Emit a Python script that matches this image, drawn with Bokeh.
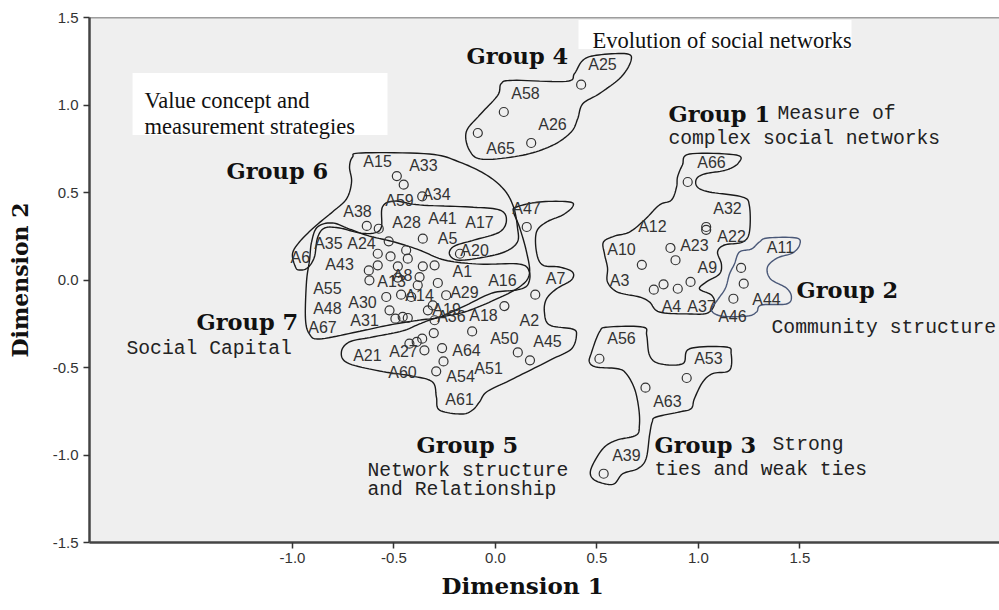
import numpy as np
from bokeh.plotting import figure
from bokeh.models import FixedTicker, NumeralTickFormatter, Range1d, Span, Title
from bokeh.embed import file_html
from bokeh.resources import INLINE
from bokeh.core.properties import value

# ---------------- data: MDS coordinates of items ----------------
pt_x = [-0.486, -0.452, -0.361, -0.634, -0.575, -0.526, -0.358, -0.175, -0.580, -0.517,
        -0.440, -0.432, -0.580, -0.624, -0.481, -0.358, -0.300, -0.621, -0.481, -0.374,
        -0.383, -0.284, -0.538, -0.465, -0.415, -0.243, -0.522, -0.493, -0.457, -0.432,
        -0.333, -0.309, -0.300, -0.304, -0.361, -0.388, -0.424, -0.350, -0.263, -0.256,
        -0.292, -0.115, 0.044, 0.196, 0.154, 0.110, 0.170,
        0.947, 1.038, 1.038, 0.862, 0.887, 0.721, 0.961, 0.898, 0.828, 0.780,
        1.210, 1.223, 1.172,
        0.512, 0.739, 0.942, 0.533,
        0.422, 0.041, -0.087, 0.176]
pt_y = [0.594, 0.545, 0.478, 0.309, 0.293, 0.221, 0.236, 0.150, 0.150, 0.135,
        0.170, 0.122, 0.084, 0.055, 0.078, 0.078, 0.084, -0.002, 0.014, 0.017,
        -0.030, -0.017, -0.097, -0.084, -0.097, -0.087, -0.173, -0.221, -0.211, -0.217,
        -0.173, -0.145, -0.230, -0.303, -0.335, -0.354, -0.364, -0.402, -0.389, -0.465,
        -0.522, -0.294, -0.149, -0.084, 0.303, -0.414, -0.459,
        0.560, 0.303, 0.287, 0.183, 0.113, 0.087, -0.011, -0.050, -0.025, -0.055,
        0.069, -0.021, -0.107,
        -0.450, -0.615, -0.560, -1.107,
        1.116, 0.960, 0.840, 0.783]

# item labels
lab_text = ["A15", "A33", "A34", "A59", "A38", "A28", "A41", "A17", "A5", "A20",
            "A35", "A24", "A6", "A43", "A1", "A55", "A13", "A8", "A14", "A29",
            "A16", "A48", "A30", "A19", "A36", "A18", "A67", "A31", "A47", "A7",
            "A2", "A21", "A27", "A64", "A50", "A45", "A60", "A54", "A51", "A61",
            "A66", "A32", "A12", "A22", "A23", "A10", "A3", "A9", "A4", "A37",
            "A11", "A44", "A46",
            "A56", "A53", "A63", "A39",
            "A25", "A58", "A26", "A65"]
lab_x = [-0.581, -0.355, -0.291, -0.473, -0.680, -0.438, -0.261, -0.079, -0.236, -0.103,
         -0.823, -0.660, -0.961, -0.768, -0.163, -0.828, -0.512, -0.458, -0.374, -0.153,
         0.034, -0.828, -0.655, -0.241, -0.217, -0.059, -0.852, -0.645, 0.153, 0.296,
         0.167, -0.631, -0.453, -0.143, 0.044, 0.256, -0.458, -0.172, -0.034, -0.177,
         1.064, 1.143, 0.773, 1.163, 0.980, 0.621, 0.611, 1.044, 0.867, 1.015,
         1.404, 1.335, 1.167,
         0.621, 1.049, 0.847, 0.645,
         0.527, 0.148, 0.281, 0.025]
lab_y = [0.680, 0.657, 0.486, 0.457, 0.394, 0.331, 0.354, 0.331, 0.240, 0.171,
         0.206, 0.206, 0.126, 0.086, 0.046, -0.051, -0.006, 0.023, -0.086, -0.074,
         0.000, -0.160, -0.126, -0.166, -0.206, -0.200, -0.269, -0.234, 0.411, 0.011,
         -0.229, -0.429, -0.406, -0.400, -0.337, -0.354, -0.526, -0.554, -0.503, -0.680,
         0.674, 0.411, 0.303, 0.246, 0.200, 0.177, 0.000, 0.069, -0.149, -0.149,
         0.183, -0.109, -0.206,
         -0.337, -0.451, -0.697, -1.000,
         1.229, 1.063, 0.886, 0.754]

x_ticks = [-1.0, -0.5, 0.0, 0.5, 1.0, 1.5]
y_ticks = [-1.5, -1.0, -0.5, 0.0, 0.5, 1.0, 1.5]

# ---------------- group outlines (control points, data units) ----------------
g1_x = [0.897, 0.921, 0.956, 1.187, 1.197, 1.138, 1.030, 0.990, 0.995, 1.054, 1.217, 1.251, 1.251,
        1.217, 1.128, 1.094, 1.113, 1.103, 1.039, 1.005, 1.064, 1.079, 1.044, 0.956, 0.808, 0.759,
        0.709, 0.601, 0.552, 0.552, 0.537, 0.532, 0.586, 0.660, 0.734, 0.808, 0.867, 0.892]
g1_y = [0.589, 0.657, 0.720, 0.714, 0.669, 0.629, 0.606, 0.577, 0.531, 0.503, 0.474, 0.423, 0.274,
        0.217, 0.200, 0.160, 0.091, 0.034, -0.011, -0.051, -0.086, -0.137, -0.189, -0.194, -0.183, -0.126,
        -0.097, -0.069, -0.011, 0.069, 0.149, 0.217, 0.251, 0.274, 0.343, 0.429, 0.457, 0.531]
g2_x = [1.177, 1.202, 1.261, 1.300, 1.340, 1.483, 1.498, 1.463, 1.389, 1.340, 1.355, 1.433, 1.458,
        1.433, 1.310, 1.286, 1.241, 1.113, 1.064, 1.094, 1.133, 1.153]
g2_y = [0.091, 0.160, 0.177, 0.217, 0.240, 0.240, 0.200, 0.154, 0.126, 0.074, 0.006, -0.046, -0.097,
        -0.137, -0.143, -0.183, -0.206, -0.206, -0.171, -0.114, -0.046, 0.034]
g3_x = [0.471, 0.512, 0.553, 0.726, 0.745, 0.759, 0.808, 0.923, 0.956, 1.136, 1.161, 1.153, 1.070,
        1.021, 0.980, 0.964, 0.906, 0.792, 0.772, 0.759, 0.742, 0.701, 0.627, 0.586, 0.537, 0.479,
        0.471, 0.529, 0.595, 0.693, 0.709, 0.706, 0.685, 0.644, 0.602, 0.496, 0.463]
g3_y = [-0.421, -0.297, -0.269, -0.269, -0.316, -0.430, -0.478, -0.478, -0.393, -0.383, -0.421, -0.516, -0.535,
        -0.583, -0.678, -0.735, -0.754, -0.783, -0.811, -0.887, -1.021, -1.078, -1.107, -1.164, -1.164, -1.135,
        -1.078, -0.964, -0.916, -0.887, -0.830, -0.735, -0.621, -0.535, -0.507, -0.497, -0.469]
g4_x = [-0.144, -0.079, 0.011, 0.028, 0.085, 0.348, 0.389, 0.430, 0.496, 0.644, 0.668, 0.619, 0.512,
        0.430, 0.405, 0.373, 0.282, 0.134, -0.063, -0.128]
g4_y = [0.846, 0.941, 1.055, 1.122, 1.141, 1.135, 1.179, 1.255, 1.284, 1.293, 1.255, 1.160, 1.065,
        1.007, 0.922, 0.846, 0.770, 0.713, 0.690, 0.741]
g5_x = [0.103, 0.217, 0.365, 0.379, 0.330, 0.251, 0.202, 0.202, 0.232, 0.315, 0.379, 0.374, 0.300,
        0.251, 0.241, 0.266, 0.379, 0.399, 0.374, 0.281, 0.182, 0.054, -0.044, -0.079, -0.113, -0.167,
        -0.276, -0.291, -0.310, -0.409, -0.571, -0.729, -0.759, -0.719, -0.606, -0.458, -0.374, -0.291,
        -0.153, -0.005, 0.118, 0.167, 0.153, 0.118, 0.089]
g5_y = [0.417, 0.446, 0.446, 0.417, 0.371, 0.331, 0.274, 0.160, 0.086, 0.074, 0.046, 0.000, -0.051,
        -0.109, -0.183, -0.257, -0.280, -0.314, -0.394, -0.451, -0.509, -0.583, -0.640, -0.697, -0.743, -0.766,
        -0.743, -0.669, -0.583, -0.549, -0.520, -0.474, -0.411, -0.354, -0.326, -0.291, -0.251, -0.217,
        -0.183, -0.114, -0.040, 0.034, 0.160, 0.303, 0.389]
g6_x = [-0.985, -1.000, -0.966, -0.892, -0.803, -0.734, -0.709, -0.719, -0.704, -0.660, -0.325, -0.177,
        -0.044, 0.044, 0.089, 0.108, 0.108, 0.044, -0.079, -0.187, -0.227, -0.202, -0.103, 0.020, 0.054,
        0.020, -0.128, -0.374, -0.498, -0.557, -0.562, -0.596, -0.670, -0.768, -0.842, -0.877, -0.892,
        -0.926, -0.966]
g6_y = [0.074, 0.149, 0.217, 0.303, 0.389, 0.463, 0.560, 0.646, 0.703, 0.726, 0.720, 0.674,
        0.600, 0.514, 0.417, 0.303, 0.217, 0.160, 0.126, 0.114, 0.149, 0.194, 0.229, 0.274, 0.343,
        0.400, 0.417, 0.429, 0.451, 0.417, 0.303, 0.269, 0.269, 0.297, 0.297, 0.240, 0.131,
        0.069, 0.057]
g7_x = [-0.906, -0.877, -0.803, -0.719, -0.621, -0.498, -0.374, -0.251, -0.079, 0.118, 0.167, 0.158,
        0.103, -0.015, -0.143, -0.276, -0.374, -0.522, -0.685, -0.867, -0.916, -0.936, -0.931, -0.916]
g7_y = [0.217, 0.303, 0.326, 0.291, 0.251, 0.217, 0.171, 0.114, 0.091, 0.091, 0.046, -0.029,
        -0.057, -0.074, -0.143, -0.211, -0.229, -0.257, -0.297, -0.337, -0.309, -0.223, -0.011, 0.114]


def smooth_closed(xs, ys, n=10):
    P = np.column_stack([xs, ys]).astype(float)
    m = len(P)
    out = []
    for i in range(m):
        p0, p1, p2, p3 = P[i - 1], P[i], P[(i + 1) % m], P[(i + 2) % m]
        for t in np.linspace(0, 1, n, endpoint=False):
            t2, t3 = t * t, t * t * t
            out.append(0.5 * ((2 * p1) + (-p0 + p2) * t + (2 * p0 - 5 * p1 + 4 * p2 - p3) * t2
                              + (-p0 + 3 * p1 - 3 * p2 + p3) * t3))
    out.append(out[0])
    a = np.array(out)
    return a[:, 0], a[:, 1]


p = figure(width=999, height=610, output_backend="svg", toolbar_location=None,
           x_range=Range1d(-2.0, 2.483), y_range=Range1d(-1.5, 1.5),
           min_border_left=89, min_border_right=0, min_border_top=17, min_border_bottom=68)
p.background_fill_color = "#efefef"
p.border_fill_color = "white"
p.outline_line_color = None
p.grid.visible = False
p.add_layout(Span(location=1.5, dimension="width", line_color="#444444", line_width=1.5))

for ax, ticks in ((p.xaxis, x_ticks), (p.yaxis, y_ticks)):
    ax.ticker = FixedTicker(ticks=ticks)
    ax.formatter = NumeralTickFormatter(format="0.0")
    ax.minor_tick_line_color = None
    ax.major_tick_in = 0
    ax.major_tick_out = 6
    ax.major_tick_line_color = "#333333"
    ax.major_tick_line_width = 1.5
    ax.axis_line_color = "#444444"
    ax.axis_line_width = 2.5
    ax.major_label_text_font = "Liberation Sans"
    ax.major_label_text_font_size = "15px"
    ax.major_label_text_color = "#333333"
    ax.axis_label_text_font = "DejaVu Serif"
    ax.axis_label_text_font_style = "bold"
    ax.axis_label_text_font_size = "22px"
    ax.axis_label_text_color = "#111111"

p.yaxis.axis_label = "Dimension 2"
p.xaxis.major_label_standoff = 4
p.yaxis.major_label_standoff = 5
p.yaxis.axis_label_standoff = 17

# x-axis title, offset as in the reference (centred near x = 0.15)
p.add_layout(Title(text="Dimension 1", align="left", offset=352, standoff=8,
                   text_font="DejaVu Serif", text_font_style="bold", text_font_size="23px",
                   text_color="#111111"), "below")

# white label boxes
p.quad(left=[0.409, -1.788], right=[1.754, -0.532], top=[1.486, 1.183], bottom=[1.320, 0.829],
       fill_color="white", line_color=None)

# group outlines
for gx, gy, col in ((g1_x, g1_y, "#1a1a1a"), (g2_x, g2_y, "#4a5878"), (g3_x, g3_y, "#1a1a1a"),
                    (g4_x, g4_y, "#1a1a1a"), (g5_x, g5_y, "#1a1a1a"), (g6_x, g6_y, "#1a1a1a"),
                    (g7_x, g7_y, "#1a1a1a")):
    sx, sy = smooth_closed(gx, gy)
    p.line(sx, sy, line_color=col, line_width=1.4)

# points
p.scatter(pt_x, pt_y, marker="circle", size=9, fill_color=None, line_color="#333333", line_width=1.2)

# item labels
p.text(x=lab_x, y=lab_y, text=lab_text, text_font=value("Liberation Sans"), text_font_size="16px",
       text_align="center", text_baseline="middle", text_color="#333333")

# group titles (bold)
grp_text = ["Group 4", "Group 6", "Group 1", "Group 2", "Group 7", "Group 5", "Group 3"]
grp_x = [-0.143, -1.325, 0.852, 1.483, -1.473, -0.389, 0.783]
grp_y = [1.280, 0.623, 0.949, -0.057, -0.240, -0.943, -0.943]
p.text(x=grp_x, y=grp_y, text=grp_text, text_font=value("DejaVu Serif"), text_font_style="bold",
       text_font_size="22.5px", text_align="left", text_baseline="alphabetic", text_color="#111111")

# group descriptions (monospace)
desc_text = ["Measure of", "complex social networks", "Community structure", "Social Capital",
             "Network structure", "and Relationship", "Strong", "ties and weak ties"]
desc_x = [1.389, 0.852, 1.360, -1.818, -0.631, -0.631, 1.365, 0.783]
desc_y = [0.949, 0.806, -0.274, -0.394, -1.091, -1.200, -0.943, -1.086]
p.text(x=desc_x, y=desc_y, text=desc_text, text_font=value("Liberation Mono"),
       text_font_size="19.7px", text_align="left", text_baseline="alphabetic", text_color="#222222")

# boxed notes (serif)
note_text = ["Evolution of social networks", "Value concept and", "measurement strategies"]
note_x = [0.478, -1.729, -1.729]
note_y = [1.366, 1.023, 0.880]
p.text(x=note_x, y=note_y, text=note_text, text_font=value("Liberation Serif"),
       text_font_size="22.5px", text_align="left", text_baseline="alphabetic", text_color="#111111")

open("out.html", "w").write(file_html(p, INLINE))
